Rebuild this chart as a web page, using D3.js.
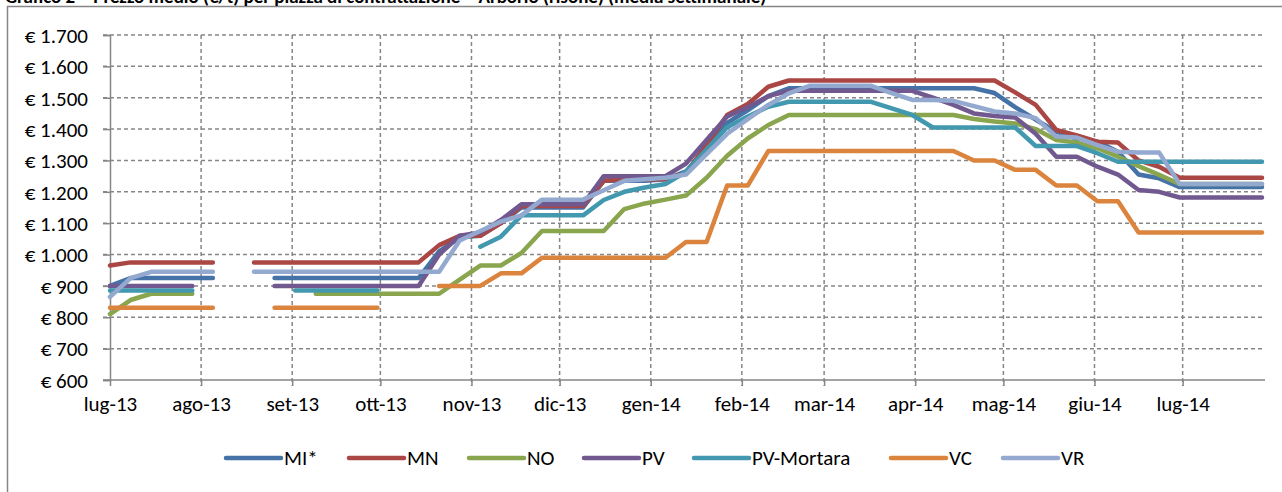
<!DOCTYPE html>
<html>
<head>
<meta charset="utf-8">
<script src="https://cdn.jsdelivr.net/npm/d3@7"></script>
<style>
  body { margin: 0; background: #fff; }
  svg text { font-family: Carlito, Calibri, Lato, sans-serif; fill: #000; }
</style>
</head>
<body>
<svg id="chart" width="1282" height="492"></svg>
<script>
// weekly quotations (Monday of each week)
weeks = [
  '2013-07-01','2013-07-08','2013-07-15','2013-07-22','2013-07-29','2013-08-05','2013-08-12','2013-08-19',
  '2013-08-26','2013-09-02','2013-09-09','2013-09-16','2013-09-23','2013-09-30','2013-10-07','2013-10-14',
  '2013-10-21','2013-10-28','2013-11-04','2013-11-11','2013-11-18','2013-11-25','2013-12-02','2013-12-09',
  '2013-12-16','2013-12-23','2013-12-30','2014-01-06','2014-01-13','2014-01-20','2014-01-27','2014-02-03',
  '2014-02-10','2014-02-17','2014-02-24','2014-03-03','2014-03-10','2014-03-17','2014-03-24','2014-03-31',
  '2014-04-07','2014-04-14','2014-04-21','2014-04-28','2014-05-05','2014-05-12','2014-05-19','2014-05-26',
  '2014-06-02','2014-06-09','2014-06-16','2014-06-23','2014-06-30','2014-07-07','2014-07-14','2014-07-21',
  '2014-07-28'
]

seriesNames = ['MI*', 'MN', 'NO', 'PV', 'PV-Mortara', 'VC', 'VR']
seriesColours = ['#4572A7', '#AA4643', '#89A54E', '#71588F', '#4198AF', '#DB843D', '#93A9CF']

mi = [900,925,925,925,925,925,null,null,925,925,925,925,925,925,925,925,
  1010,1055,1060,1100,1150,1150,1150,1150,1235,1235,1235,1240,1265,1340,1420,1460,1505,
  1530,1530,1530,1530,1530,1530,1530,1530,1530,1530,
  1515,1470,1430,1392,1370,1360,1328,1255,1243,
  1215,1215,1215,1215,1215]
mn = [965,975,975,975,975,975,null,975,975,975,975,975,975,975,975,975,
  1030,1060,1060,1100,1155,1155,1155,1155,1235,1240,1240,1240,1260,1350,1445,1480,1535,
  1555,1555,1555,1555,1555,1555,1555,1555,1555,1555,1555,
  1517,1477,1397,1380,1360,1357,1300,1280,
  1245,1245,1245,1245,1245]
no = [810,855,875,875,875,null,null,null,null,null,875,875,875,875,875,875,875,
  920,965,965,1005,1075,1075,1075,1075,1145,1163,1175,1188,1245,1315,1370,1413,
  1445,1445,1445,1445,1445,1445,1445,1445,1445,
  1432,1424,1418,1400,1365,1357,1339,1312,1282,1254,
  1225,1225,1225,1225,1225]
pv = [900,900,900,900,900,null,null,null,900,900,900,900,900,900,900,900,
  1000,1060,1070,1110,1160,1160,1160,1160,1250,1250,1250,1250,1290,1365,1440,1470,1505,
  1522,1522,1522,1522,1522,1522,1522,
  1500,1477,1450,1442,1437,1385,1312,1312,1280,1255,1206,1200,
  1182,1182,1182,1182,1182]
pvMortara = [885,885,885,885,885,null,null,null,null,885,885,885,885,885,null,null,null,null,
  1025,1057,1125,1125,1125,1125,1174,1200,1214,1225,1264,1335,1406,1440,1471,
  1487,1487,1487,1487,1487,1466,1445,
  1405,1405,1405,1405,1405,1346,1346,1346,1323,
  1296,1296,1296,1296,1296,1296,1296,1296]
vc = [830,830,830,830,830,830,null,null,830,830,830,830,830,830,null,null,
  900,900,900,940,940,990,990,990,990,990,990,990,1040,1040,1220,1220,
  1330,1330,1330,1330,1330,1330,1330,1330,1330,1330,
  1300,1300,1270,1270,1220,1220,1170,1170,
  1070,1070,1070,1070,1070,1070,1070]
vr = [865,925,945,945,945,945,null,945,945,945,945,945,945,945,945,945,945,
  1045,1075,1105,1125,1175,1175,1175,1205,1235,1240,1245,1255,1320,1385,1432,1477,1514,
  1538,1538,1538,1538,
  1515,1493,1493,1490,1473,1456,1450,1435,1376,1373,1349,1328,1325,1325,
  1225,1225,1225,1225,1225]

seriesValues = [mi, mn, no, pv, pvMortara, vc, vr]

monthLabels = ['lug-13','ago-13','set-13','ott-13','nov-13','dic-13','gen-14',
  'feb-14','mar-14','apr-14','mag-14','giu-14','lug-14']
yTicks = [600,700,800,900,1000,1100,1200,1300,1400,1500,1600,1700]

title = 'Grafico 2 – Prezzo medio (€/t) per piazza di contrattazione – Arborio (risone) (media settimanale)'

parseDate = d3.timeParse('%Y-%m-%d')
dates = weeks.map(parseDate)

itLocale = d3.formatLocale({ decimal: ',', thousands: '.', grouping: [3], currency: ['€ ', ''] })
euro = itLocale.format('$,.0f')

svg = d3.select('#chart')

// outer chart frame (runs past the picture on the right and bottom)
svg.append('rect')
   .attr('x', 7.5).attr('y', 6.5)
   .attr('width', 1400).attr('height', 600)
   .attr('fill', '#fff')
   .attr('stroke', '#868686')
   .attr('stroke-width', 1.5)

svg.append('text')
   .attr('x', 5).attr('y', 3)
   .attr('font-size', 19)
   .attr('font-weight', 'bold')
   .text(title)

x = d3.scaleTime()
      .domain([dates[0], dates[dates.length - 1]])
      .range([110, 1262])
y = d3.scaleLinear()
      .domain([600, 1700])
      .range([380, 35])

monthTicks = d3.timeMonth.range(dates[0], d3.timeDay.offset(dates[dates.length - 1], 1))

// horizontal grid
svg.append('g')
   .selectAll('line')
   .data(yTicks.filter(function(d) { return d > 600 }))
   .enter()
   .append('line')
   .attr('x1', 103).attr('x2', 1265)
   .attr('y1', function(d) { return y(d) })
   .attr('y2', function(d) { return y(d) })
   .attr('stroke', '#868686')
   .attr('stroke-width', 1.5)
   .attr('stroke-dasharray', '4,3')

// vertical grid
svg.append('g')
   .selectAll('line')
   .data(monthTicks.slice(1))
   .enter()
   .append('line')
   .attr('x1', function(d) { return x(d) })
   .attr('x2', function(d) { return x(d) })
   .attr('y1', y(1700)).attr('y2', 386)
   .attr('stroke', '#868686')
   .attr('stroke-width', 1.5)
   .attr('stroke-dasharray', '4,3')

// y axis
yAxis = svg.append('g')
   .attr('transform', 'translate(110,0)')
   .call(d3.axisLeft(y).tickValues(yTicks).tickSize(7).tickPadding(15).tickFormat(euro))
yAxis.select('.domain').attr('stroke', '#868686').attr('stroke-width', 1.5)
yAxis.selectAll('.tick line').attr('stroke', '#868686').attr('stroke-width', 1.5)
yAxis.selectAll('.tick text').attr('font-size', 21).attr('dy', '0.35em')

// x axis
xAxis = svg.append('g')
   .attr('transform', 'translate(0,380)')
   .call(d3.axisBottom(x).tickValues(monthTicks).tickSize(6).tickPadding(10)
          .tickFormat(function(d, i) { return monthLabels[i] }))
xAxis.select('.domain').attr('stroke', '#868686').attr('stroke-width', 1.5)
   .attr('d', 'M103,0H1265')
xAxis.selectAll('.tick line').attr('stroke', '#868686').attr('stroke-width', 1.5)
xAxis.selectAll('.tick text').attr('font-size', 21)

svg.selectAll('.tick text').attr('fill', '#000')
svg.selectAll('g[font-family]').attr('font-family', null)

// series
line = d3.line()
         .defined(function(d) { return d.v != null })
         .x(function(d) { return x(d.date) })
         .y(function(d) { return y(d.v) })

svg.append('g')
   .selectAll('path')
   .data(seriesNames.map(function(name, i) {
     return { name: name, colour: seriesColours[i],
              points: dates.map(function(dt, j) { return { date: dt, v: seriesValues[i][j] } }) }
   }))
   .enter()
   .append('path')
   .attr('d', function(d) { return line(d.points) })
   .attr('fill', 'none')
   .attr('stroke', function(d) { return d.colour })
   .attr('stroke-width', 4.5)
   .attr('stroke-linejoin', 'round')
   .attr('stroke-linecap', 'round')

// legend
legendX = [226, 349, 469, 584, 694, 891, 1003]
legend = svg.append('g')
            .selectAll('g')
            .data(seriesNames)
            .enter()
            .append('g')
            .attr('transform', function(d, i) { return 'translate(' + legendX[i] + ',458)' })
legend.append('line')
      .attr('x1', 0).attr('x2', 55)
      .attr('stroke', function(d, i) { return seriesColours[i] })
      .attr('stroke-width', 4.5)
      .attr('stroke-linecap', 'round')
legend.append('text')
      .attr('x', 58).attr('dy', '0.35em')
      .attr('font-size', 21)
      .text(function(d) { return d })
</script>
</body>
</html>
